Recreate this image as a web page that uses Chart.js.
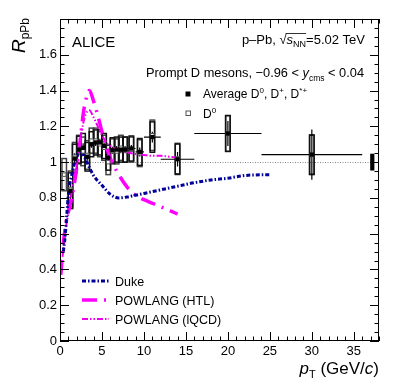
<!DOCTYPE html>
<html>
<head>
<meta charset="utf-8">
<script src="https://cdn.jsdelivr.net/npm/chart.js@4.4.0/dist/chart.umd.min.js"></script>
<style>
  html, body { margin: 0; padding: 0; background: #fff; }
</style>
</head>
<body>
<canvas id="rppb-chart" width="399" height="387"></canvas>
<script>
// ALICE prompt D-meson R_pPb vs pT, p-Pb 5.02 TeV

// Average D0, D+, D*+
const avgPt    = [1.25, 1.75, 2.25, 2.75, 3.25, 3.75, 4.25, 4.75, 5.25, 5.75, 6.25, 6.75, 7.25, 7.75, 8.5, 9.5, 11, 14, 20, 30];
const avgHalfW = [0.25, 0.25, 0.25, 0.25, 0.25, 0.25, 0.25, 0.25, 0.25, 0.25, 0.25, 0.25, 0.25, 0.25, 0.5, 0.5, 1, 2, 4, 6];
const avgVal   = [0.84, 1.02, 1.07, 1.08, 1.03, 1.10, 1.11, 1.11, 1.09, 1.025, 1.066, 1.07, 1.07, 1.07, 1.076, 1.057, 1.14, 1.016, 1.16, 1.042];
const avgStat  = [0.05, 0.03, 0.03, 0.025, 0.02, 0.02, 0.02, 0.02, 0.02, 0.02, 0.02, 0.02, 0.02, 0.02, 0.02, 0.025, 0.03, 0.04, 0.07, 0.14];
const avgSyst  = [0.10, 0.08, 0.075, 0.08, 0.08, 0.07, 0.07, 0.07, 0.07, 0.07, 0.07, 0.07, 0.07, 0.07, 0.07, 0.075, 0.085, 0.085, 0.10, 0.11];

// D0 only
const d0Pt   = [0.5, 1.25, 1.75, 2.25, 2.75, 3.25, 3.75, 4.25, 4.75, 5.25, 5.75, 6.25, 6.75, 7.25, 7.75, 8.5, 9.5, 11, 14, 20, 30];
const d0Val  = [0.93, 0.85, 1.03, 1.07, 1.06, 1.04, 1.12, 1.12, 1.10, 1.08, 1.00, 1.06, 1.06, 1.08, 1.07, 1.07, 1.05, 1.15, 1.02, 1.16, 1.04];
const d0Syst = [0.09, 0.10, 0.08, 0.08, 0.08, 0.08, 0.07, 0.07, 0.07, 0.07, 0.07, 0.07, 0.07, 0.07, 0.07, 0.07, 0.075, 0.085, 0.085, 0.10, 0.11];

// normalisation uncertainty box
const normPt = 37.2;
const normUnc = 0.047;

// model curves
const dukePt  = [0.4, 0.6, 0.8, 1.0, 1.5, 2.0, 2.5, 3.0, 3.5, 4.0, 5.0, 6.0, 7.0, 8.0, 9.0, 10, 12, 14, 16, 18, 20, 22, 25];
const dukeVal = [0.50, 0.58, 0.70, 0.82, 0.95, 1.03, 1.06, 1.02, 0.97, 0.925, 0.87, 0.82, 0.80, 0.805, 0.815, 0.825, 0.845, 0.865, 0.885, 0.90, 0.91, 0.925, 0.93];
const htlPt   = [0.1, 0.4, 0.8, 1.2, 1.6, 2.0, 2.4, 2.8, 3.2, 3.5, 4.0, 4.5, 5.0, 5.5, 6, 7, 8, 9, 10, 11, 12, 13, 14];
const htlVal  = [0.37, 0.55, 0.68, 0.76, 0.85, 0.97, 1.12, 1.28, 1.37, 1.40, 1.34, 1.26, 1.17, 1.09, 1.02, 0.93, 0.86, 0.815, 0.79, 0.77, 0.75, 0.73, 0.71];
const lqcdPt  = [0.3, 0.6, 1.0, 1.5, 2.0, 2.5, 3.0, 3.5, 4.0, 4.5, 5, 5.5, 6, 7, 8, 9, 10, 11, 12, 13, 14];
const lqcdVal = [0.47, 0.60, 0.72, 0.86, 0.98, 1.15, 1.26, 1.29, 1.25, 1.20, 1.15, 1.11, 1.09, 1.07, 1.055, 1.045, 1.04, 1.035, 1.035, 1.03, 1.025];

const modelNames = ['Duke', 'POWLANG (HTL)', 'POWLANG (lQCD)'];

const FONT = '"Liberation Sans", Arial, Helvetica, sans-serif';
const toXY = (xs, ys) => xs.map((v, i) => ({ x: v, y: ys[i] }));
const BOX_HALF = 0.27;

function curve(label, xs, ys, color, width, dash) {
    return {
        type: 'line', label, data: toXY(xs, ys),
        borderColor: color, borderWidth: width, borderDash: dash,
        pointRadius: 0, fill: false, cubicInterpolationMode: 'monotone'
    };
}

// rich text helper: segments [{t, size, italic, dy}]
function richWidth(ctx, segs) {
    let w = 0;
    segs.forEach(s => { ctx.font = `${s.italic ? 'italic ' : ''}${s.size}px ${FONT}`; w += ctx.measureText(s.t).width; });
    return w;
}
function drawRich(ctx, segs, x, y) {
    const out = [];
    segs.forEach(s => {
        ctx.font = `${s.italic ? 'italic ' : ''}${s.size}px ${FONT}`;
        ctx.fillText(s.t, x, y + (s.dy || 0));
        const w = ctx.measureText(s.t).width;
        out.push([x, w]);
        x += w;
    });
    return out;
}

const errorPlugin = {
    id: 'errors',
    beforeDatasetsDraw(chart) {
        const { ctx, scales: { x, y } } = chart;
        ctx.save();
        // reference line at 1
        ctx.strokeStyle = '#888';
        ctx.lineWidth = 1;
        ctx.setLineDash([1, 1.5]);
        ctx.beginPath();
        ctx.moveTo(x.getPixelForValue(0), Math.round(y.getPixelForValue(1)) + 0.5);
        ctx.lineTo(x.getPixelForValue(37), Math.round(y.getPixelForValue(1)) + 0.5);
        ctx.stroke();
        ctx.setLineDash([]);

        // syst boxes
        const box = (pt, v, s, col) => {
            const l = x.getPixelForValue(pt - BOX_HALF), r = x.getPixelForValue(pt + BOX_HALF);
            const t = y.getPixelForValue(v + s), b = y.getPixelForValue(v - s);
            ctx.strokeStyle = col;
            ctx.strokeRect(l, t, r - l, b - t);
        };
        ctx.lineWidth = 1.5;
        d0Pt.forEach((pt, i) => box(pt, d0Val[i], d0Syst[i], '#444'));
        avgPt.forEach((pt, i) => box(pt, avgVal[i], avgSyst[i], '#111'));

        // stat bars + bin widths
        ctx.strokeStyle = '#000';
        ctx.lineWidth = 1.2;
        ctx.beginPath();
        avgPt.forEach((pt, i) => {
            const px = x.getPixelForValue(pt), py = y.getPixelForValue(avgVal[i]);
            ctx.moveTo(x.getPixelForValue(pt - avgHalfW[i]), py);
            ctx.lineTo(x.getPixelForValue(pt + avgHalfW[i]), py);
            ctx.moveTo(px, y.getPixelForValue(avgVal[i] + avgStat[i]));
            ctx.lineTo(px, y.getPixelForValue(avgVal[i] - avgStat[i]));
        });
        ctx.stroke();

        // normalisation box
        ctx.fillStyle = '#000';
        const nl = x.getPixelForValue(normPt - 0.25), nr = x.getPixelForValue(normPt + 0.25);
        const nt = y.getPixelForValue(1 + normUnc), nb = y.getPixelForValue(1 - normUnc);
        ctx.fillRect(nl, nt, nr - nl, nb - nt);
        ctx.restore();
    }
};

const framePlugin = {
    id: 'frame',
    afterDraw(chart) {
        const { ctx, chartArea: a, scales: { x, y } } = chart;
        ctx.save();
        ctx.strokeStyle = '#000';
        ctx.lineWidth = 1;
        ctx.strokeRect(a.left + 0.5, a.top + 0.5, a.right - a.left - 1, a.bottom - a.top - 1);
        ctx.beginPath();
        for (let v = 0; v <= 38; v++) {
            const px = Math.round(x.getPixelForValue(v)) + 0.5;
            const L = v % 5 === 0 ? 9 : 4.5;
            ctx.moveTo(px, a.bottom); ctx.lineTo(px, a.bottom - L);
            ctx.moveTo(px, a.top); ctx.lineTo(px, a.top + L);
        }
        for (let i = 0; i <= 36; i++) {
            const py = Math.round(y.getPixelForValue(i * 0.05)) + 0.5;
            const L = i % 4 === 0 ? 9 : 4.5;
            ctx.moveTo(a.left, py); ctx.lineTo(a.left + L, py);
            ctx.moveTo(a.right, py); ctx.lineTo(a.right - L, py);
        }
        ctx.stroke();

        ctx.fillStyle = '#000';
        ctx.textBaseline = 'alphabetic';

        // ALICE
        ctx.font = `15px ${FONT}`;
        ctx.fillText('ALICE', 72, 47);

        // system / energy
        const sys = [
            { t: 'p\u2013Pb, ', size: 13 }, { t: '\u221A', size: 13 },
            { t: 's', size: 13, italic: true }, { t: 'NN', size: 9, dy: 3 },
            { t: '=5.02 TeV', size: 13 }
        ];
        const sysPos = drawRich(ctx, sys, 365 - richWidth(ctx, sys), 44);
        ctx.beginPath();
        ctx.lineWidth = 0.8;
        ctx.moveTo(sysPos[1][0] + sysPos[1][1] - 1, 33.5);
        ctx.lineTo(sysPos[3][0] + sysPos[3][1], 33.5);
        ctx.stroke();

        const sel = [
            { t: 'Prompt D mesons, \u22120.96 < ', size: 12.8 }, { t: 'y', size: 12.8, italic: true },
            { t: 'cms', size: 8.5, dy: 4 }, { t: ' < 0.04', size: 12.8 }
        ];
        drawRich(ctx, sel, 364 - richWidth(ctx, sel), 77);

        // marker legend
        ctx.fillRect(185.5, 91.5, 5, 5);
        ctx.strokeStyle = '#555';
        ctx.lineWidth = 1;
        ctx.strokeRect(186, 111, 4.5, 4.5);
        drawRich(ctx, [
            { t: 'Average D', size: 12 }, { t: '0', size: 8, dy: -5 }, { t: ', D', size: 12 },
            { t: '+', size: 8, dy: -5 }, { t: ', D', size: 12 }, { t: '*+', size: 8, dy: -5 }
        ], 203, 98);
        drawRich(ctx, [{ t: 'D', size: 12 }, { t: '0', size: 8, dy: -5 }], 203, 118);

        // model legend
        const ds = chart.data.datasets.filter(d => d.type === 'line');
        ds.forEach((d, i) => {
            const ly = 281 + i * 19;
            ctx.strokeStyle = d.borderColor;
            ctx.lineWidth = d.borderWidth;
            ctx.setLineDash(d.borderDash);
            ctx.beginPath();
            ctx.moveTo(82, ly); ctx.lineTo(109, ly);
            ctx.stroke();
            ctx.setLineDash([]);
            ctx.font = `12.5px ${FONT}`;
            ctx.fillText(d.label, 115, ly + 4.5);
        });

        // axis titles
        const xt = [
            { t: 'p', size: 17, italic: true }, { t: 'T', size: 11, dy: 4 },
            { t: ' (GeV/', size: 17 }, { t: 'c', size: 17, italic: true }, { t: ')', size: 17 }
        ];
        drawRich(ctx, xt, 379 - richWidth(ctx, xt), 374);

        const yt = [{ t: 'R', size: 19, italic: true }, { t: 'pPb', size: 12, dy: 4 }];
        ctx.translate(25, 18);
        ctx.rotate(-Math.PI / 2);
        drawRich(ctx, yt, -richWidth(ctx, yt), 0);
        ctx.restore();
    }
};

const ctx = document.getElementById('rppb-chart').getContext('2d');

// Chart.js paints the first dataset on top, so markers come first
new Chart(ctx, {
    type: 'scatter',
    data: {
        datasets: [
            {
                label: 'Average', data: toXY(avgPt, avgVal), pointStyle: 'rect', pointRadius: 3,
                backgroundColor: '#000', borderColor: '#000', borderWidth: 0
            },
            {
                label: 'D0', data: toXY(d0Pt, d0Val), pointStyle: 'rect', pointRadius: 2.5,
                backgroundColor: '#fff', borderColor: '#555', borderWidth: 1
            },
            curve(modelNames[0], dukePt, dukeVal, '#00009a', 3, [4, 2, 1.5, 2]),
            curve(modelNames[1], htlPt, htlVal, '#ff00ff', 3.5, [15, 7, 2, 7]),
            curve(modelNames[2], lqcdPt, lqcdVal, '#ee00ee', 2, [6, 2, 1.5, 2, 1.5, 2])
        ]
    },
    options: {
        responsive: false,
        animation: false,
        layout: { padding: { top: 19, right: 20, left: 0, bottom: 0 } },
        plugins: { legend: { display: false }, tooltip: { enabled: false } },
        scales: {
            x: {
                type: 'linear', min: 0, max: 38,
                grid: { display: false, drawTicks: false },
                border: { display: false },
                afterFit: s => { s.height = 46; },
                ticks: {
                    stepSize: 5, autoSkip: false, maxRotation: 0, padding: 3,
                    color: '#000', font: { family: FONT, size: 13 },
                    callback: v => (v % 5 === 0 ? String(v) : '')
                }
            },
            y: {
                type: 'linear', min: 0, max: 1.8,
                grid: { display: false, drawTicks: false },
                border: { display: false },
                afterFit: s => { s.width = 60; },
                ticks: {
                    stepSize: 0.2, padding: 3,
                    color: '#000', font: { family: FONT, size: 13 },
                    callback: v => (v > 1.7 ? '' : String(+v.toFixed(1)))
                }
            }
        }
    },
    plugins: [errorPlugin, framePlugin]
});
</script>
</body>
</html>
